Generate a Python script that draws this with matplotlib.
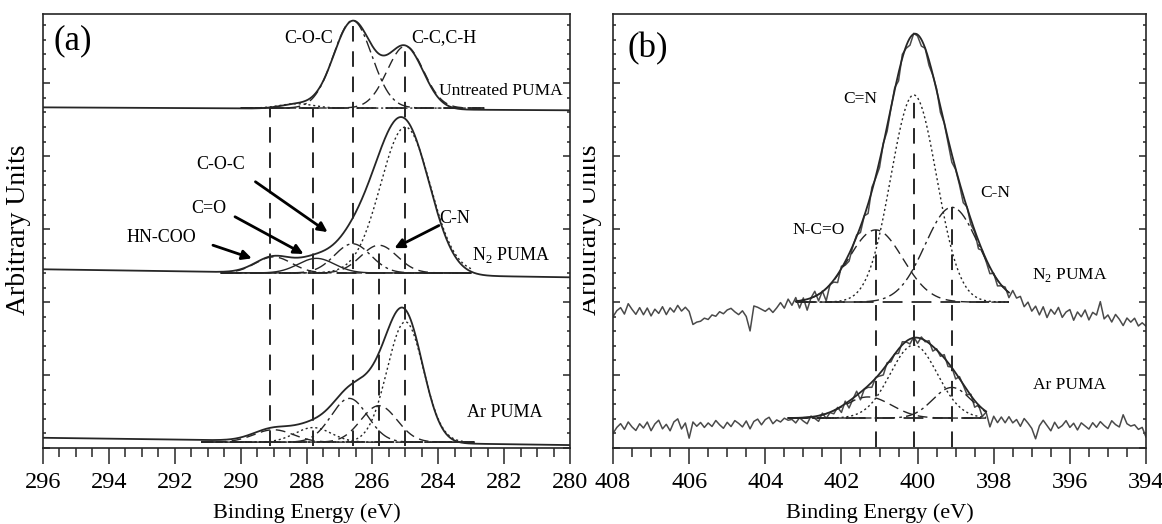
import numpy as np
import matplotlib
matplotlib.use('Agg')
import matplotlib.pyplot as plt
from matplotlib.ticker import MultipleLocator
from matplotlib.transforms import Bbox, TransformedBbox

plt.rcParams['font.family'] = ['Liberation Serif', 'DejaVu Serif']
plt.rcParams['mathtext.fontset'] = 'custom'
plt.rcParams['mathtext.rm'] = 'Liberation Serif'

INK = '#262626'
LS = {'dot': (0, (1.5, 2.0)), 'dash': (0, (7, 4)),
      'dashdot': (0, (9, 3, 2, 3)), 'thin': '-'}

# ---- panel (a): C 1s, fitted components (centre eV, height, sigma) ----
untreated_centers = [288.3, 286.6, 285.0]
untreated_heights = [0.06, 1.20, 0.85]
untreated_widths = [0.50, 0.58, 0.55]
untreated_styles = ['dot', 'dashdot', 'dash']
untreated_base = 4.66
untreated_fit_span = [290.0, 282.6]
untreated_bg = [4.67, 4.63]

n2a_centers = [289.0, 287.7, 286.6, 285.8, 285.0]
n2a_heights = [0.22, 0.20, 0.40, 0.38, 2.00]
n2a_widths = [0.55, 0.55, 0.55, 0.55, 0.75]
n2a_styles = ['dash', 'thin', 'dashdot', 'dash', 'dot']
n2a_base = 2.40
n2a_fit_span = [290.6, 283.0]
n2a_bg = [2.45, 2.34]

ara_centers = [289.0, 287.8, 286.7, 285.8, 285.0]
ara_heights = [0.17, 0.20, 0.60, 0.50, 1.65]
ara_widths = [0.60, 0.55, 0.55, 0.55, 0.55]
ara_styles = ['dash', 'dot', 'dashdot', 'dash', 'dot']
ara_base = 0.08
ara_fit_span = [291.2, 282.9]
ara_bg = [0.14, 0.04]

a_vlines = [289.1, 287.8, 286.6, 285.8, 285.0]
a_vline_tops = [4.66, 4.66, 5.90, 2.78, 5.55]

# ---- panel (b): N 1s ----
b_energy = np.linspace(408, 394, 141)

n2b_centers = [401.1, 400.1, 399.1]
n2b_heights = [0.99, 2.84, 1.30]
n2b_widths = [0.71, 0.60, 0.70]
n2b_styles = ['dash', 'dot', 'dashdot']
n2b_base = 2.00
n2b_fit_span = [403.2, 397.6]
n2b_bg_x = [408, 403.2, 397.6, 394]
n2b_bg_y = [1.85, 1.95, 1.95, 1.72]
n2b_noise = [
    -0.05, 0.03, 0.07, -0.02, 0.12, 0.04, -0.03, 0.06, -0.04, 0.05,
    -0.06, 0.03, -0.03, 0.06, -0.05, 0.04, -0.02, 0.07, -0.01, 0.04,
    -0.02, -0.20, -0.17, -0.16, -0.12, -0.14, -0.08, -0.10, -0.04, -0.07,
    -0.02, 0.00, -0.05, -0.09, -0.04, -0.12, -0.32, 0.02, 0.00, -0.03,
    -0.06, -0.02, -0.08, -0.02, 0.05, -0.03, 0.09, 0.00,
    0.10, -0.05, 0.08, -0.10, 0.05, 0.12, -0.04, 0.06, -0.12, 0.05,
    0.02, -0.06, 0.08, 0.00, -0.05, 0.04, 0.07, -0.03, 0.05, -0.08,
    0.10, 0.03, -0.04, 0.06, -0.02, 0.04, 0.08, -0.06, 0.10, 0.02,
    -0.05, 0.06, 0.03, -0.04, 0.05, -0.02, 0.04, 0.07, -0.03, 0.05,
    0.00, -0.06, 0.04, 0.02, -0.05, 0.06, -0.02, 0.03, -0.06, 0.05,
    0.02, -0.04, 0.06, -0.03, 0.04, 0.08, -0.02,
    0.12, 0.05, 0.10, -0.02, 0.06, -0.05, 0.03, -0.08, 0.04, -0.10,
    0.02, -0.04, 0.06, -0.07, 0.01, 0.05, -0.09, 0.03, -0.03, 0.07,
    -0.06, 0.05, 0.02, 0.21, -0.02, 0.04, -0.05, 0.06, 0.00, -0.08,
    0.03, -0.02, 0.04, -0.06, -0.01, -0.05]

arb_centers = [401.3, 400.1, 399.1]
arb_heights = [0.29, 1.00, 0.42]
arb_widths = [0.62, 0.62, 0.50]
arb_styles = ['dash', 'dot', 'dashdot']
arb_base = 0.41
arb_fit_span = [403.4, 398.2]
arb_bg_x = [408, 403.4, 398.2, 394]
arb_bg_y = [0.28, 0.36, 0.38, 0.27]
arb_noise = [
    -0.08, 0.00, 0.05, -0.03, 0.07, 0.00, -0.05, 0.04, -0.02, 0.06,
    -0.06, 0.03, 0.08, -0.04, 0.02, -0.07, 0.05, 0.09, -0.05, 0.03,
    -0.18, 0.04, -0.02, 0.03, -0.04, 0.02, -0.03, 0.05, -0.01, -0.06,
    0.02, -0.04, 0.04, 0.00, -0.05, 0.03, -0.08, 0.02, 0.05, -0.03,
    0.04, 0.07, -0.02, 0.03, 0.00, 0.05, 0.02,
    0.03, -0.02, 0.05, 0.00, -0.04, 0.06, 0.02, -0.03, 0.07, -0.02,
    0.04, 0.00, 0.06, -0.04, 0.08, -0.05, 0.03, 0.10, -0.06, 0.04,
    0.02, -0.03, 0.05, 0.01, -0.04, 0.06, 0.00, 0.04, -0.02, 0.08,
    0.03, -0.03, 0.05, -0.04, 0.06, 0.02, 0.07, -0.03, 0.05, 0.00,
    0.08, -0.02, 0.04, -0.05, 0.06, 0.02, -0.03, 0.05, -0.06, 0.03,
    -0.08, 0.02,
    -0.15, 0.02, -0.05, 0.04, -0.03, 0.06, -0.02, 0.03, -0.06, 0.05,
    -0.01, -0.08, -0.22, -0.04, 0.04, -0.03, -0.10, 0.02, -0.06, -0.02,
    0.05, -0.04, 0.02, -0.07, 0.03, -0.01, -0.05, 0.04, -0.02, 0.06,
    0.01, -0.03, 0.08, 0.03, 0.00, 0.17, 0.05, 0.02, 0.04, -0.02,
    0.01, -0.12]

b_vlines = [401.1, 400.1, 399.1]
b_vline_tops = [2.99, 4.84, 3.30]


def gauss(x, c, h, s):
    return h * np.exp(-(x - c) ** 2 / (2 * s * s))


def components(x, centers, heights, widths):
    return [gauss(x, c, h, s) for c, h, s in zip(centers, heights, widths)]


def draw_fit(ax, x, comps, styles, base, span):
    ''' draw fit baseline and components inside the fit span '''
    inside = (x <= span[0]) & (x >= span[1])
    ax.plot(span, [base, base], color=INK, lw=1.3, ls=(0, (11, 5)))
    for comp, st in zip(comps, styles):
        ax.plot(x[inside], base + comp[inside], color=INK, lw=1.0, ls=LS[st])
    return inside


def style_axes(ax, xlim, ymax):
    ax.set_xlim(*xlim)
    ax.set_ylim(0, ymax)
    ax.xaxis.set_major_locator(MultipleLocator(2))
    ax.xaxis.set_minor_locator(MultipleLocator(0.5))
    ax.yaxis.set_major_locator(MultipleLocator(1))
    ax.yaxis.set_minor_locator(MultipleLocator(0.2))
    ax.tick_params(axis='x', which='both', direction='out', top=False,
                   labelsize=17.5, pad=6, color=INK, width=1.1)
    ax.tick_params(axis='x', which='major', length=11.5)
    ax.tick_params(axis='x', which='minor', length=6.5)
    ax.tick_params(axis='y', which='both', direction='in', left=True,
                   right=True, labelleft=False, color=INK, width=1.1)
    ax.tick_params(axis='y', which='major', length=5)
    ax.tick_params(axis='y', which='minor', length=2.5)
    for sp in ax.spines.values():
        sp.set_color(INK)
        sp.set_linewidth(1.2)
    ax.set_xlabel('Binding Energy (eV)', fontsize=16, labelpad=7)


fig = plt.figure(figsize=(11.62, 5.24), dpi=100)
ax1 = fig.add_axes([43 / 1162, 76 / 524, 527 / 1162, 434 / 524])
ax2 = fig.add_axes([613 / 1162, 76 / 524, 533 / 1162, 434 / 524])

# panel (a)
xa = np.linspace(296, 280, 801)
spectra_a = [
    (untreated_centers, untreated_heights, untreated_widths, untreated_styles,
     untreated_base, untreated_fit_span, untreated_bg),
    (n2a_centers, n2a_heights, n2a_widths, n2a_styles,
     n2a_base, n2a_fit_span, n2a_bg),
    (ara_centers, ara_heights, ara_widths, ara_styles,
     ara_base, ara_fit_span, ara_bg),
]
for cen, hei, wid, sty, base, span, bg in spectra_a:
    comps = components(xa, cen, hei, wid)
    background = np.interp(xa, [280, 296], [bg[1], bg[0]])
    ax1.plot(xa, background + np.sum(comps, axis=0), color=INK, lw=1.3)
    draw_fit(ax1, xa, comps, sty, base, span)

for xv, top in zip(a_vlines, a_vline_tops):
    ax1.plot([xv, xv], [0.03, top], color=INK, lw=1.4, ls=(0, (8, 5)))

ax1.text(295.1, 5.58, '(a)', fontsize=25, ha='center', va='center')
ax1.text(287.95, 5.62, 'C-O-C', fontsize=13, ha='center', va='center')
ax1.text(283.83, 5.63, 'C-C,C-H', fontsize=13, ha='center', va='center')
ax1.text(282.1, 4.90, 'Untreated PUMA', fontsize=12.5, ha='center', va='center')
ax1.text(290.6, 3.88, 'C-O-C', fontsize=13, ha='center', va='center')
ax1.text(290.96, 3.29, 'C=O', fontsize=13, ha='center', va='center')
ax1.text(292.4, 2.88, 'HN-COO', fontsize=13, ha='center', va='center')
ax1.text(283.5, 3.15, 'C-N', fontsize=13, ha='center', va='center')
ax1.text(281.8, 2.64, 'N$_2$ PUMA', fontsize=13, ha='center', va='center')
ax1.text(281.97, 0.48, 'Ar PUMA', fontsize=13, ha='center', va='center')

arrows = [((289.55, 3.65), (287.36, 2.96)),
          ((290.17, 3.17), (288.09, 2.66)),
          ((290.84, 2.78), (289.66, 2.60)),
          ((283.98, 3.05), (285.33, 2.74))]
for tail, head in arrows:
    ax1.annotate('', xy=head, xytext=tail,
                 arrowprops=dict(arrowstyle='-|>', color='black', lw=2,
                                 mutation_scale=14, shrinkA=0, shrinkB=0))

style_axes(ax1, (296, 280), 5.95)

# panel (b)
xb = np.linspace(408, 394, 1401)
spectra_b = [
    (n2b_centers, n2b_heights, n2b_widths, n2b_styles, n2b_base,
     n2b_fit_span, n2b_bg_x, n2b_bg_y, n2b_noise),
    (arb_centers, arb_heights, arb_widths, arb_styles, arb_base,
     arb_fit_span, arb_bg_x, arb_bg_y, arb_noise),
]
for cen, hei, wid, sty, base, span, bgx, bgy, noise in spectra_b:
    raw_comps = np.sum(components(b_energy, cen, hei, wid), axis=0)
    raw_bg = np.interp(b_energy, bgx[::-1], bgy[::-1])
    ax2.plot(b_energy, raw_bg + raw_comps + np.array(noise),
             color='#4a4a4a', lw=1.1)
    comps = components(xb, cen, hei, wid)
    inside = draw_fit(ax2, xb, comps, sty, base, span)
    ax2.plot(xb[inside], base + np.sum(comps, axis=0)[inside],
             color=INK, lw=1.3)

for xv, top in zip(b_vlines, b_vline_tops):
    ax2.plot([xv, xv], [0.02, top], color=INK, lw=1.4, ls=(0, (8, 5)))

ax2.text(407.08, 5.48, '(b)', fontsize=25, ha='center', va='center')
ax2.text(401.5, 4.79, 'C=N', fontsize=12.5, ha='center', va='center')
ax2.text(397.97, 3.49, 'C-N', fontsize=12.5, ha='center', va='center')
ax2.text(402.6, 2.99, 'N-C=O', fontsize=12.5, ha='center', va='center')
ax2.text(396.0, 2.37, 'N$_2$ PUMA', fontsize=12.5, ha='center', va='center')
ax2.text(396.0, 0.86, 'Ar PUMA', fontsize=12.5, ha='center', va='center')

style_axes(ax2, (408, 394), 5.95)

fig.text(19 / 1162, 1 - 230 / 524, 'Arbitrary Units', rotation=90,
         ha='center', va='center', fontsize=20)
label_b = fig.text(589 / 1162, 1 - 230 / 524, 'Arbitrary Units', rotation=90,
                   ha='center', va='center', fontsize=20)
label_b.set_clip_on(True)
label_b.set_clip_box(TransformedBbox(Bbox.from_extents(583 / 1162, 0, 1, 1),
                                     fig.transFigure))

fig.savefig('out.png', dpi=100)
